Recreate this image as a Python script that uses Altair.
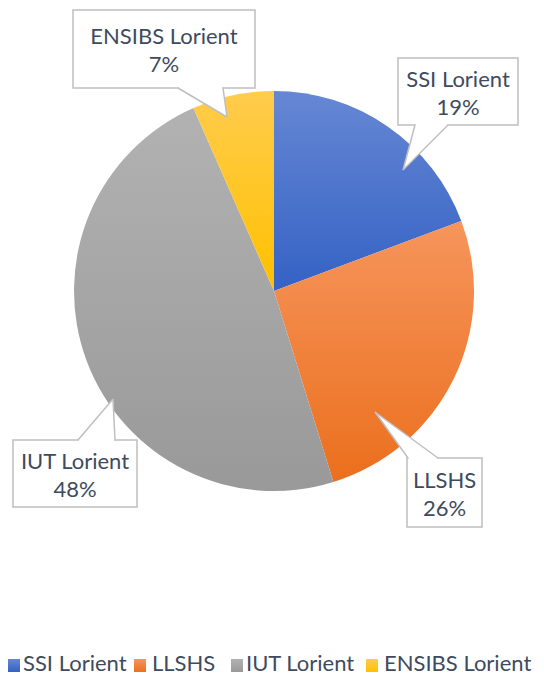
import math
import altair as alt
import pandas as pd

# ---------------- data ----------------
categories = ["SSI Lorient", "LLSHS", "IUT Lorient", "ENSIBS Lorient"]
shares = [19.3, 25.9, 48.2, 6.6]
pct_labels = ["19%", "26%", "48%", "7%"]

# ---------------- styles ----------------
gradients = {
    "SSI Lorient": ("#6687d4", "#3462c4"),
    "LLSHS": ("#f6955c", "#eb6f1d"),
    "IUT Lorient": ("#b2b2b2", "#999999"),
    "ENSIBS Lorient": ("#ffcc4d", "#ffc000"),
}
TEXT = "#3e4b5e"
BORDER = "#bfbfbf"
FONT = "Lato"
FS = 22
LEG_FS = 22

# ---------------- layout (page pixel units) ----------------
W, H = 528, 669
PIE_CX, PIE_CY, PIE_R = 274, 291, 200
callouts = {
    "SSI Lorient": dict(box=(398, 518, 58, 125), edge="bottom", base=(415, 448), tip=(403, 170)),
    "ENSIBS Lorient": dict(box=(73, 255, 10, 88), edge="bottom", base=(178, 223), tip=(227, 117)),
    "IUT Lorient": dict(box=(13, 137, 440, 507), edge="top", base=(78, 115), tip=(113, 399)),
    "LLSHS": dict(box=(407, 482, 458, 527), edge="top", base=(408, 438), tip=(375, 412)),
}
legend_pos = {  # square left x, text left x
    "SSI Lorient": (8, 23),
    "LLSHS": (134, 152),
    "IUT Lorient": (231, 246),
    "ENSIBS Lorient": (366, 384),
}
LEG_Y0, LEG_Y1, LEG_TEXT_Y = 659, 672, 671

xs = alt.Scale(domain=[8, 8 + W], nice=False, zero=False)
ys = alt.Scale(domain=[8, 8 + H], nice=False, zero=False, reverse=True)


def X(f):
    return alt.X(f, type="quantitative", scale=xs, axis=None)


def Y(f):
    return alt.Y(f, type="quantitative", scale=ys, axis=None)


def grad(c0, c1):
    return alt.Gradient(
        gradient="linear",
        stops=[alt.GradientStop(color=c0, offset=0), alt.GradientStop(color=c1, offset=1)],
        x1=0, x2=0, y1=0, y2=1,
    )


df = pd.DataFrame({"cat": categories, "value": shares, "pct": pct_labels, "order": list(range(len(categories)))})
total = float(sum(shares))
theta_scale = alt.Scale(domain=[0, total], range=[0, 2 * math.pi])

layers = []
# pie slices
for cat in categories:
    c0, c1 = gradients[cat]
    layers.append(
        alt.Chart(df)
        .transform_window(cum="sum(value)", sort=[alt.SortField("order")], frame=[None, 0])
        .transform_calculate(start="datum.cum - datum.value")
        .transform_filter(alt.datum.cat == cat)
        .mark_arc(radius=PIE_R, color=grad(c0, c1))
        .encode(
            theta=alt.Theta("start:Q", scale=theta_scale),
            theta2="cum:Q",
            x=alt.value(PIE_CX - 8),
            y=alt.value(PIE_CY - 8),
        )
    )

# callouts
box_rows, tri_rows, side_rows, cover_rows, text_rows = [], [], [], [], []
for cat, pct in zip(categories, pct_labels):
    c = callouts[cat]
    x0, x1, y0, y1 = c["box"]
    ey = y1 if c["edge"] == "bottom" else y0
    b1, b2 = c["base"]
    tx, ty = c["tip"]
    box_rows.append(dict(cat=cat, x0=x0, x1=x1, y0=y0, y1=y1))
    tri_rows += [dict(cat=cat, py=ey, pa=b1, pb=b2), dict(cat=cat, py=ty, pa=tx, pb=tx)]
    side_rows += [dict(cat=cat, xa=b1, ya=ey, xb=tx, yb=ty), dict(cat=cat, xa=b2, ya=ey, xb=tx, yb=ty)]
    cover_rows.append(dict(cat=cat, xa=b1 + 1, xb=b2 - 1, ya=ey))
    cx, cy = (x0 + x1) / 2, (y0 + y1) / 2
    text_rows += [dict(cat=cat, t=cat, tx=cx, ty=cy - 5), dict(cat=cat, t=pct, tx=cx, ty=cy + 23)]

layers.append(
    alt.Chart(pd.DataFrame(box_rows)).mark_rect(fill="white", stroke=BORDER, strokeWidth=1.5)
    .encode(x=X("x0"), x2="x1", y=Y("y0"), y2="y1")
)
layers.append(
    alt.Chart(pd.DataFrame(tri_rows)).mark_area(orient="horizontal", color="white")
    .encode(y=Y("py"), x=X("pa"), x2="pb", detail="cat:N")
)
layers.append(
    alt.Chart(pd.DataFrame(cover_rows)).mark_rule(color="white", strokeWidth=2.5)
    .encode(x=X("xa"), x2="xb", y=Y("ya"))
)
layers.append(
    alt.Chart(pd.DataFrame(side_rows)).mark_rule(color=BORDER, strokeWidth=1.5)
    .encode(x=X("xa"), x2="xb", y=Y("ya"), y2="yb")
)
layers.append(
    alt.Chart(pd.DataFrame(text_rows)).mark_text(font=FONT, fontSize=FS, color=TEXT, align="center", baseline="alphabetic")
    .encode(x=X("tx"), y=Y("ty"), text="t:N")
)

# legend
for cat in categories:
    c0, c1 = gradients[cat]
    sx, _ = legend_pos[cat]
    layers.append(
        alt.Chart(pd.DataFrame([dict(cat=cat, x0=sx, x1=sx + 12, y0=LEG_Y0, y1=LEG_Y1)]))
        .mark_rect(color=grad(c0, c1))
        .encode(x=X("x0"), x2="x1", y=Y("y0"), y2="y1")
    )
leg_rows = [dict(t=cat, tx=legend_pos[cat][1], ty=LEG_TEXT_Y) for cat in categories]
layers.append(
    alt.Chart(pd.DataFrame(leg_rows)).mark_text(font=FONT, fontSize=LEG_FS, color=TEXT, align="left", baseline="alphabetic")
    .encode(x=X("tx"), y=Y("ty"), text="t:N")
)

chart = (
    alt.layer(*layers)
    .properties(width=W, height=H, padding=0, autosize=alt.AutoSizeParams(type="none"))
    .configure_view(stroke=None)
)
chart.save("out.html", embed_options={"renderer": "svg", "actions": False})
